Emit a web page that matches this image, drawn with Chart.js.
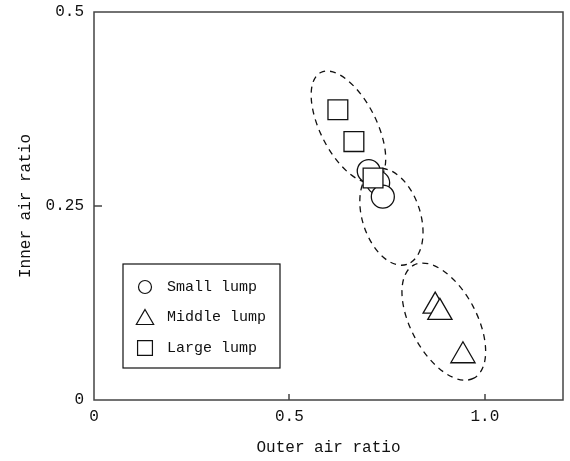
<!DOCTYPE html>
<html>
<head>
<meta charset="utf-8">
<script src="https://cdn.jsdelivr.net/npm/chart.js@4.4.0/dist/chart.umd.min.js"></script>
<style>
html, body { margin: 0; padding: 0; background: #fff; }
#wrap { width: 570px; height: 461px; }
</style>
</head>
<body>
<div id="wrap"><canvas id="myChart"></canvas></div>
<script>
const smallX = [0.703, 0.727, 0.739];
const smallY = [0.295, 0.280, 0.262];
const middleX = [0.873, 0.885, 0.944];
const middleY = [0.121, 0.113, 0.057];
const largeX = [0.624, 0.665, 0.714];
const largeY = [0.374, 0.333, 0.286];

const xTicks = [0, 0.5, 1.0];
const xTickLabels = ['0', '0.5', '1.0'];
const yTicks = [0, 0.25, 0.5];
const yTickLabels = ['0', '0.25', '0.5'];

// dashed rings round each group, centre in data units
const ringX = [0.651, 0.761, 0.895];
const ringY = [0.352, 0.236, 0.101];
const ringShape = [
  { a: 61, b: 28, rot: 63 },
  { a: 50, b: 29, rot: 72 },
  { a: 64, b: 33, rot: 62 }
];

const fontMono = { family: 'Liberation Mono', size: 16 };
const ink = '#111';

function pts(xs, ys) {
  return xs.map((x, i) => ({ x: x, y: ys[i] }));
}

const rings = {
  id: 'rings',
  beforeDatasetsDraw(chart) {
    const c = chart.ctx, sx = chart.scales.x, sy = chart.scales.y;
    c.save();
    c.strokeStyle = ink;
    c.lineWidth = 1.3;
    c.setLineDash([6, 5]);
    ringX.forEach((x, i) => {
      const s = ringShape[i];
      c.beginPath();
      c.ellipse(sx.getPixelForValue(x), sy.getPixelForValue(ringY[i]), s.a, s.b, s.rot * Math.PI / 180, 0, Math.PI * 2);
      c.stroke();
    });
    c.restore();
  }
};

const frame = {
  id: 'frame',
  afterDraw(chart) {
    const c = chart.ctx, a = chart.chartArea, sx = chart.scales.x, sy = chart.scales.y;
    c.save();
    c.strokeStyle = '#444';
    c.lineWidth = 1.5;
    c.strokeRect(a.left, a.top, a.right - a.left, a.bottom - a.top);
    c.beginPath();
    xTicks.slice(1).forEach(v => {
      const px = Math.round(sx.getPixelForValue(v));
      c.moveTo(px, a.bottom);
      c.lineTo(px, a.bottom - 6);
    });
    yTicks.slice(1, -1).forEach(v => {
      const py = Math.round(sy.getPixelForValue(v));
      c.moveTo(a.left, py);
      c.lineTo(a.left + 8, py);
    });
    c.stroke();

    // legend box
    const bx = a.left + 29, by = a.top + 252, bw = 157, bh = 104;
    c.fillStyle = '#fff';
    c.fillRect(bx, by, bw, bh);
    c.strokeStyle = ink;
    c.lineWidth = 1.2;
    c.strokeRect(bx, by, bw, bh);
    c.font = '15px "Liberation Mono"';
    c.textBaseline = 'middle';
    [0, 1, 2].forEach((di, k) => {
      const ds = chart.data.datasets[di];
      const y = by + 23 + k * 30.5;
      c.fillStyle = '#fff';
      c.strokeStyle = ink;
      c.lineWidth = 1.2;
      Chart.helpers.drawPoint(c, { pointStyle: ds.pointStyle, radius: ds.legendRadius, rotation: 0, borderWidth: 1.2 }, bx + 22, y + (ds.pointStyle === 'triangle' ? 2 : 0));
      c.fillStyle = ink;
      c.fillText(ds.label, bx + 44, y);
    });
    c.restore();
  }
};

new Chart(document.getElementById('myChart'), {
  type: 'scatter',
  data: {
    datasets: [
      { label: 'Small lump', data: pts(smallX, smallY), pointStyle: 'circle', pointRadius: 11.5, legendRadius: 6.5, order: 2 },
      { label: 'Middle lump', data: pts(middleX, middleY), pointStyle: 'triangle', pointRadius: 14, legendRadius: 10, order: 1 },
      { label: 'Large lump', data: pts(largeX, largeY), pointStyle: 'rect', pointRadius: 14, legendRadius: 10.5, order: 0 }
    ].map(d => Object.assign(d, {
      backgroundColor: '#fff', borderColor: ink, pointBorderWidth: 1.3,
      pointHoverRadius: d.pointRadius
    }))
  },
  options: {
    responsive: true,
    maintainAspectRatio: false,
    animation: false,
    events: [],
    layout: { autoPadding: false, padding: { left: 0, top: 12, right: 7, bottom: 0 } },
    plugins: { legend: { display: false }, tooltip: { enabled: false } },
    scales: {
      x: {
        type: 'linear', min: 0, max: 1.2,
        afterBuildTicks: s => { s.ticks = xTicks.map(v => ({ value: v })); },
        afterFit: s => { s.height = 61; s.paddingLeft = 0; s.paddingRight = 0; },
        ticks: { callback: (v, i) => xTickLabels[i], font: fontMono, color: ink, padding: 7, maxRotation: 0, autoSkip: false },
        grid: { display: false, drawTicks: false },
        border: { display: false },
        title: { display: true, text: 'Outer air ratio', font: fontMono, color: ink, padding: { top: 4, bottom: 4 } }
      },
      y: {
        type: 'linear', min: 0, max: 0.5,
        afterBuildTicks: s => { s.ticks = yTicks.map(v => ({ value: v })); },
        afterFit: s => { s.width = 94; s.paddingTop = 0; s.paddingBottom = 0; },
        ticks: { callback: (v, i) => yTickLabels[i], font: fontMono, color: ink, padding: 10, autoSkip: false },
        grid: { display: false, drawTicks: false },
        border: { display: false },
        title: { display: true, text: 'Inner air ratio', font: fontMono, color: ink, padding: { top: 16, bottom: 4 } }
      }
    }
  },
  plugins: [rings, frame]
});
</script>
</body>
</html>
